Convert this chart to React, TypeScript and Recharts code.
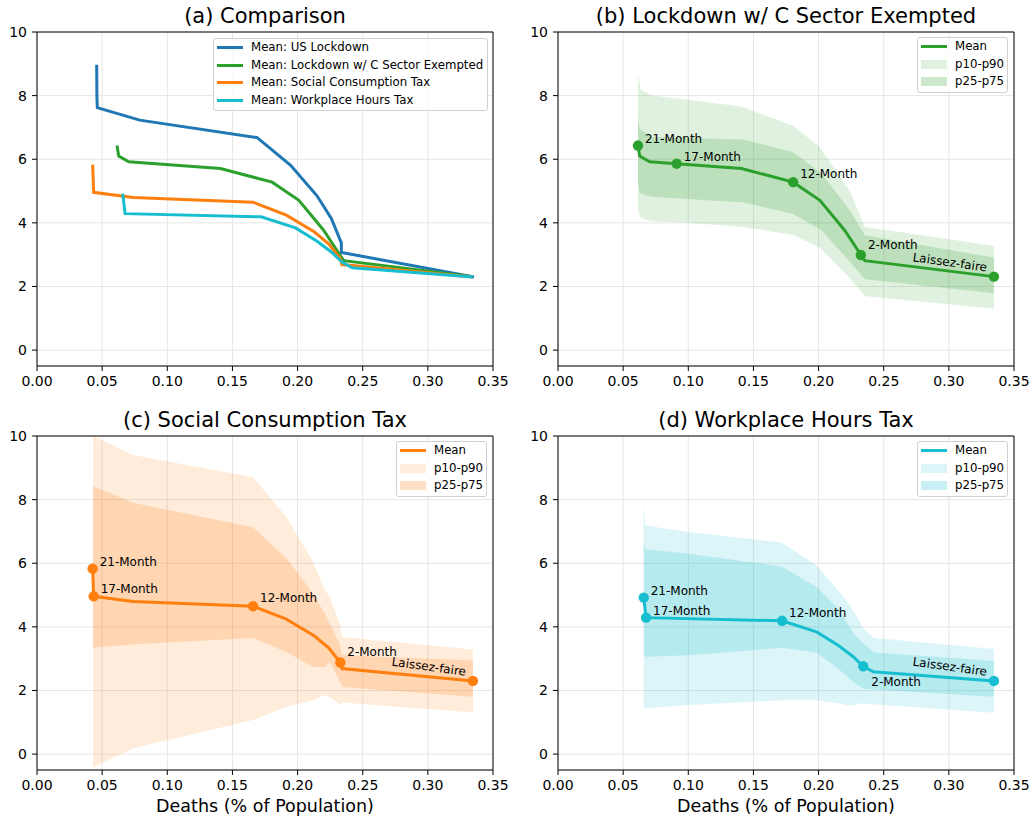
import { ComposedChart, Line, Area, Scatter, XAxis, YAxis, CartesianGrid, ReferenceLine } from 'recharts';

const FONT = '"DejaVu Sans", Verdana, sans-serif';

const X_TICKS = [0, 0.05, 0.1, 0.15, 0.2, 0.25, 0.3, 0.35];
const Y_TICKS = [0, 2, 4, 6, 8, 10];

const BLUE = '#1f77b4';
const GREEN = '#2ca02c';
const ORANGE = '#ff7f0e';
const CYAN = '#17becf';

// mean curves (x = deaths %, y = loss)
const usLockdownMean = [
    { x: 0.0458, y: 8.97 }, { x: 0.046, y: 7.95 }, { x: 0.0463, y: 7.62 }, { x: 0.0788, y: 7.23 },
    { x: 0.169, y: 6.68 }, { x: 0.1947, y: 5.81 }, { x: 0.2149, y: 4.85 }, { x: 0.2259, y: 4.14 },
    { x: 0.2336, y: 3.37 }, { x: 0.2336, y: 3.07 }, { x: 0.3354, y: 2.3 },
];

const cSectorMean = [
    { x: 0.0614, y: 6.43 }, { x: 0.0627, y: 6.1 }, { x: 0.0704, y: 5.92 }, { x: 0.0911, y: 5.86 },
    { x: 0.1408, y: 5.71 }, { x: 0.1805, y: 5.28 }, { x: 0.201, y: 4.71 }, { x: 0.22, y: 3.77 },
    { x: 0.2325, y: 2.99 }, { x: 0.2355, y: 2.81 }, { x: 0.3346, y: 2.31 },
];

const socialTaxMean = [
    { x: 0.0427, y: 5.83 }, { x: 0.0435, y: 4.96 }, { x: 0.0737, y: 4.8 }, { x: 0.1658, y: 4.65 },
    { x: 0.1914, y: 4.24 }, { x: 0.213, y: 3.71 }, { x: 0.2238, y: 3.34 }, { x: 0.2328, y: 2.88 },
    { x: 0.234, y: 2.69 }, { x: 0.3346, y: 2.3 },
];

const workplaceTaxMean = [
    { x: 0.0658, y: 4.92 }, { x: 0.0676, y: 4.29 }, { x: 0.172, y: 4.19 }, { x: 0.1984, y: 3.84 },
    { x: 0.215, y: 3.42 }, { x: 0.2266, y: 3.06 }, { x: 0.2343, y: 2.76 }, { x: 0.242, y: 2.59 },
    { x: 0.3346, y: 2.3 },
];

// percentile bands
const cSectorP10P90 = [
    { x: 0.0614, lo: 4.4, hi: 8.68 }, { x: 0.0634, lo: 4.17, hi: 8.19 }, { x: 0.0716, lo: 4.05, hi: 8.0 },
    { x: 0.1, lo: 4.0, hi: 7.87 }, { x: 0.1408, lo: 3.88, hi: 7.66 }, { x: 0.1805, lo: 3.62, hi: 7.05 },
    { x: 0.201, lo: 3.22, hi: 6.38 }, { x: 0.224, lo: 2.26, hi: 4.99 }, { x: 0.2355, lo: 1.7, hi: 3.87 },
    { x: 0.3346, lo: 1.3, hi: 3.28 },
];
const cSectorP25P75 = [
    { x: 0.0614, lo: 5.24, hi: 7.33 }, { x: 0.0627, lo: 4.94, hi: 6.96 }, { x: 0.0716, lo: 4.82, hi: 6.7 },
    { x: 0.1424, lo: 4.64, hi: 6.62 }, { x: 0.1805, lo: 4.28, hi: 6.22 }, { x: 0.2022, lo: 3.77, hi: 5.55 },
    { x: 0.224, lo: 2.78, hi: 4.4 }, { x: 0.2355, lo: 2.23, hi: 3.61 }, { x: 0.3346, lo: 1.79, hi: 2.91 },
];

const socialTaxP10P90 = [
    { x: 0.043, lo: -0.42, hi: 10.0 }, { x: 0.0737, lo: 0.18, hi: 9.4 }, { x: 0.1658, lo: 1.07, hi: 8.7 },
    { x: 0.1914, lo: 1.49, hi: 7.45 }, { x: 0.212, lo: 1.69, hi: 6.04 }, { x: 0.2208, lo: 1.85, hi: 5.17 },
    { x: 0.2246, lo: 1.8, hi: 4.94 }, { x: 0.2328, lo: 1.54, hi: 4.05 }, { x: 0.234, lo: 1.62, hi: 3.68 },
    { x: 0.3346, lo: 1.31, hi: 3.29 },
];
const socialTaxP25P75 = [
    { x: 0.043, lo: 3.34, hi: 8.42 }, { x: 0.0737, lo: 3.45, hi: 7.9 }, { x: 0.1658, lo: 3.65, hi: 7.13 },
    { x: 0.1914, lo: 3.21, hi: 6.16 }, { x: 0.212, lo: 2.74, hi: 5.04 }, { x: 0.2208, lo: 2.74, hi: 4.41 },
    { x: 0.2246, lo: 2.9, hi: 4.1 }, { x: 0.2328, lo: 2.27, hi: 3.42 }, { x: 0.234, lo: 2.11, hi: 3.11 },
    { x: 0.3346, lo: 1.8, hi: 2.94 },
];

const workplaceTaxP10P90 = [
    { x: 0.0658, lo: 1.43, hi: 7.82 }, { x: 0.0671, lo: 1.44, hi: 7.19 }, { x: 0.0998, lo: 1.54, hi: 6.98 },
    { x: 0.1715, lo: 1.69, hi: 6.65 }, { x: 0.1984, lo: 1.69, hi: 5.94 }, { x: 0.215, lo: 1.6, hi: 5.15 },
    { x: 0.2253, lo: 1.52, hi: 4.6 }, { x: 0.2304, lo: 1.59, hi: 4.23 }, { x: 0.2343, lo: 1.58, hi: 3.95 },
    { x: 0.2427, lo: 1.57, hi: 3.65 }, { x: 0.3346, lo: 1.3, hi: 3.3 },
];
const workplaceTaxP25P75 = [
    { x: 0.0658, lo: 3.11, hi: 6.67 }, { x: 0.0671, lo: 3.06, hi: 6.44 }, { x: 0.0998, lo: 3.11, hi: 6.3 },
    { x: 0.1715, lo: 3.34, hi: 5.9 }, { x: 0.1984, lo: 3.19, hi: 5.26 }, { x: 0.215, lo: 2.69, hi: 4.58 },
    { x: 0.2279, lo: 2.22, hi: 3.74 }, { x: 0.2343, lo: 2.06, hi: 3.48 }, { x: 0.2427, lo: 2.03, hi: 3.19 },
    { x: 0.3346, lo: 1.8, hi: 2.93 },
];

// labelled policy durations
const cSectorMilestones = [
    { name: '21-Month', x: 0.0614, y: 6.43 }, { name: '17-Month', x: 0.0911, y: 5.86 },
    { name: '12-Month', x: 0.1805, y: 5.28 }, { name: '2-Month', x: 0.2325, y: 2.99 },
    { name: 'Laissez-faire', x: 0.3346, y: 2.31 },
];
const socialTaxMilestones = [
    { name: '21-Month', x: 0.0427, y: 5.83 }, { name: '17-Month', x: 0.0435, y: 4.96 },
    { name: '12-Month', x: 0.1658, y: 4.65 }, { name: '2-Month', x: 0.2328, y: 2.88 },
    { name: 'Laissez-faire', x: 0.3346, y: 2.3 },
];
const workplaceTaxMilestones = [
    { name: '21-Month', x: 0.0658, y: 4.92 }, { name: '17-Month', x: 0.0676, y: 4.29 },
    { name: '12-Month', x: 0.172, y: 4.19 }, { name: '2-Month', x: 0.2343, y: 2.76 },
    { name: 'Laissez-faire', x: 0.3346, y: 2.3 },
];

const PLOT_W = 456;
const PLOT_H = 334;
const Y_AXIS_W = 37;
const TOP_PAD = 12;

const LABEL_DY: Record<string, number> = { '21-Month': -7, '17-Month': -7, '12-Month': -8, '2-Month': -10 };

const makeMilestoneShape = (color: string, below: string[] = []) => (props: any) => {
    const { cx, cy, payload } = props;
    const name = payload?.name ?? '';
    const textStyle = { fontSize: 12, fontFamily: FONT, fill: '#000' };
    let label;
    if (name === 'Laissez-faire') {
        const lx = cx - 7;
        const ly = cy - 9;
        label = (
            <text x={lx} y={ly} textAnchor="end" dominantBaseline="central" transform={`rotate(8 ${lx} ${ly})`} style={textStyle}>
                {name}
            </text>
        );
    } else if (below.includes(name)) {
        label = (
            <text x={cx + 8} y={cy + 16} dominantBaseline="central" style={textStyle}>{name}</text>
        );
    } else {
        label = (
            <text x={cx + 7} y={cy + (LABEL_DY[name] ?? -8)} dominantBaseline="central" style={textStyle}>{name}</text>
        );
    }
    return (
        <g>
            <circle cx={cx} cy={cy} r={5.2} fill={color} />
            {label}
        </g>
    );
};

const tickStyle = { fill: '#000', fontSize: 14, fontFamily: FONT };

const Panel = ({ left, top, children }: { left: number; top: number; children: any }) => (
    <div style={{ position: 'absolute', left: left - Y_AXIS_W, top: top - TOP_PAD }}>
        <ComposedChart
            width={Y_AXIS_W + PLOT_W + 22}
            height={TOP_PAD + PLOT_H + 35}
            margin={{ top: TOP_PAD, right: 22, bottom: 0, left: 0 }}
        >
            <CartesianGrid stroke="#e6e6e6" strokeWidth={1} />
            <XAxis
                type="number"
                dataKey="x"
                domain={[0, 0.35]}
                ticks={X_TICKS}
                tickFormatter={(v: number) => v.toFixed(2)}
                height={35}
                tickSize={5}
                tickMargin={5}
                tick={tickStyle}
                stroke="#000"
                interval={0}
            />
            <YAxis
                type="number"
                dataKey="y"
                domain={[-0.5, 10]}
                ticks={Y_TICKS}
                width={Y_AXIS_W}
                tickSize={5}
                tickMargin={5}
                tick={tickStyle}
                stroke="#000"
                allowDataOverflow
                interval={0}
            />
            {children}
            {/* closing the frame on top and right */}
            <ReferenceLine y={10} stroke="#000" strokeWidth={1} ifOverflow="visible" />
            <ReferenceLine x={0.35} stroke="#000" strokeWidth={1} ifOverflow="visible" />
        </ComposedChart>
    </div>
);

const bandKey = (d: { lo: number; hi: number }) => [d.lo, d.hi];

const BandPanel = ({ left, top, color, outer, inner, mean, milestones, below }: any) => (
    <Panel left={left} top={top}>
        <Area data={outer} dataKey={bandKey} type="linear" stroke="none" fill={color} fillOpacity={0.15} isAnimationActive={false} />
        <Area data={inner} dataKey={bandKey} type="linear" stroke="none" fill={color} fillOpacity={0.2} isAnimationActive={false} />
        <Line data={mean} dataKey="y" type="linear" stroke={color} strokeWidth={3} dot={false} isAnimationActive={false} />
        <Scatter data={milestones} fill={color} shape={makeMilestoneShape(color, below)} isAnimationActive={false} />
    </Panel>
);

const Title = ({ cx, cy, text }: { cx: number; cy: number; text: string }) => (
    <div style={{ position: 'absolute', left: cx - 250, top: cy - 13, width: 500, textAlign: 'center', fontSize: 21, lineHeight: '26px', fontFamily: FONT, color: '#000' }}>
        {text}
    </div>
);

const XLabel = ({ cx, cy }: { cx: number; cy: number }) => (
    <div style={{ position: 'absolute', left: cx - 200, top: cy - 11, width: 400, textAlign: 'center', fontSize: 17.5, lineHeight: '22px', fontFamily: FONT, color: '#000' }}>
        Deaths (% of Population)
    </div>
);

const legendBox = (left: number, top: number, width: number, height: number) => ({
    position: 'absolute' as const,
    left,
    top,
    width,
    height,
    border: '1px solid #d0d0d0',
    borderRadius: 3,
    background: 'rgba(255,255,255,0.8)',
    boxSizing: 'border-box' as const,
    fontFamily: FONT,
    fontSize: 11.75,
    color: '#000',
});

const Row = ({ i, swatch, text }: { i: number; swatch: any; text: string }) => (
    <div style={{ position: 'absolute', left: 0, top: i * 17.5, height: 17.5, width: '100%' }}>
        <div style={{ position: 'absolute', left: 3, top: 0, width: 26, height: 17.5, display: 'flex', alignItems: 'center' }}>{swatch}</div>
        <div style={{ position: 'absolute', left: 37, top: 0, lineHeight: '17.5px', whiteSpace: 'nowrap' }}>{text}</div>
    </div>
);

const lineSwatch = (color: string) => <div style={{ width: 26, height: 3, background: color }} />;
const fillSwatch = (color: string, opacity: number) => (
    <div style={{ width: 26, height: 9, background: color, opacity }} />
);

const BandLegend = ({ left, top, color }: { left: number; top: number; color: string }) => (
    <div style={legendBox(left, top - 1, 91, 56)}>
        <Row i={0} swatch={lineSwatch(color)} text="Mean" />
        <Row i={1} swatch={fillSwatch(color, 0.15)} text="p10-p90" />
        <Row i={2} swatch={fillSwatch(color, 0.24)} text="p25-p75" />
    </div>
);

export default function App() {
    return (
        <div style={{ position: 'absolute', left: 0, top: 0, width: 1032, height: 820, background: '#fff', overflow: 'hidden' }}>
            <Title cx={265} cy={16} text="(a) Comparison" />
            <Title cx={786} cy={16} text="(b) Lockdown w/ C Sector Exempted" />
            <Title cx={265} cy={420} text="(c) Social Consumption Tax" />
            <Title cx={786} cy={420} text="(d) Workplace Hours Tax" />

            <Panel left={37} top={32}>
                <Line data={usLockdownMean} dataKey="y" type="linear" stroke={BLUE} strokeWidth={3} dot={false} isAnimationActive={false} />
                <Line data={cSectorMean} dataKey="y" type="linear" stroke={GREEN} strokeWidth={3} dot={false} isAnimationActive={false} />
                <Line data={socialTaxMean} dataKey="y" type="linear" stroke={ORANGE} strokeWidth={3} dot={false} isAnimationActive={false} />
                <Line data={workplaceTaxMean} dataKey="y" type="linear" stroke={CYAN} strokeWidth={3} dot={false} isAnimationActive={false} />
            </Panel>

            <BandPanel left={558} top={32} color={GREEN} outer={cSectorP10P90} inner={cSectorP25P75} mean={cSectorMean} milestones={cSectorMilestones} />
            <BandPanel left={37} top={435.5} color={ORANGE} outer={socialTaxP10P90} inner={socialTaxP25P75} mean={socialTaxMean} milestones={socialTaxMilestones} />
            <BandPanel left={558} top={435.5} color={CYAN} outer={workplaceTaxP10P90} inner={workplaceTaxP25P75} mean={workplaceTaxMean} milestones={workplaceTaxMilestones} below={['2-Month']} />

            <div style={legendBox(213, 38, 275, 73)}>
                <Row i={0} swatch={lineSwatch(BLUE)} text="Mean: US Lockdown" />
                <Row i={1} swatch={lineSwatch(GREEN)} text="Mean: Lockdown w/ C Sector Exempted" />
                <Row i={2} swatch={lineSwatch(ORANGE)} text="Mean: Social Consumption Tax" />
                <Row i={3} swatch={lineSwatch(CYAN)} text="Mean: Workplace Hours Tax" />
            </div>
            <BandLegend left={917} top={38} color={GREEN} />
            <BandLegend left={396} top={442} color={ORANGE} />
            <BandLegend left={917} top={442} color={CYAN} />

            <XLabel cx={265} cy={806} />
            <XLabel cx={786} cy={806} />
        </div>
    );
}
